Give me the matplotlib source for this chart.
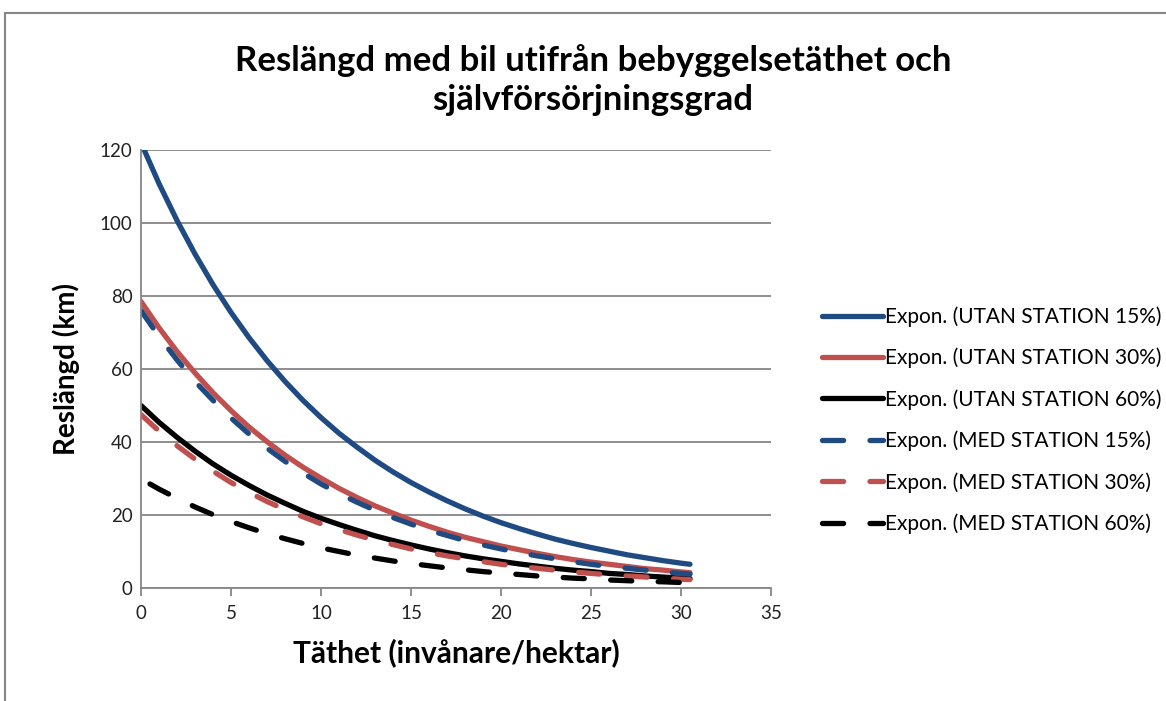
import matplotlib
matplotlib.use('Agg')
import matplotlib.pyplot as plt
from matplotlib.lines import Line2D

plt.rcParams['font.family'] = ['Lato', 'DejaVu Sans']

# data (trendline values at each x)
x_full = [0, 1, 2, 3, 4, 5, 6, 7, 8, 9, 10, 11, 12, 13, 14, 15, 16, 17, 18, 19,
          20, 21, 22, 23, 24, 25, 26, 27, 28, 29, 30, 30.5]
x_med60 = [0.5] + x_full[1:]

utan_15 = [122.0, 110.8, 100.7, 91.5, 83.1, 75.5, 68.6, 62.3, 56.6, 51.4, 46.7, 42.4,
           38.6, 35.0, 31.8, 28.9, 26.3, 23.9, 21.7, 19.7, 17.9, 16.3, 14.8, 13.4,
           12.2, 11.1, 10.1, 9.1, 8.3, 7.5, 6.8, 6.5]
utan_30 = [78.5, 71.3, 64.8, 58.9, 53.5, 48.6, 44.1, 40.1, 36.4, 33.1, 30.1, 27.3,
           24.8, 22.5, 20.5, 18.6, 16.9, 15.3, 13.9, 12.7, 11.5, 10.5, 9.5, 8.6,
           7.8, 7.1, 6.5, 5.9, 5.3, 4.9, 4.4, 4.2]
utan_60 = [50.0, 45.4, 41.3, 37.5, 34.0, 30.9, 28.1, 25.5, 23.2, 21.0, 19.1, 17.4,
           15.8, 14.3, 13.0, 11.8, 10.7, 9.7, 8.8, 8.0, 7.3, 6.6, 6.0, 5.4,
           4.9, 4.5, 4.0, 3.7, 3.3, 3.0, 2.7, 2.6]
med_15 = [76.0, 68.9, 62.5, 56.6, 51.4, 46.6, 42.2, 38.3, 34.7, 31.5, 28.5, 25.9,
          23.5, 21.3, 19.3, 17.5, 15.8, 14.4, 13.0, 11.8, 10.7, 9.7, 8.8, 8.0,
          7.2, 6.5, 5.9, 5.4, 4.9, 4.4, 4.0, 3.8]
med_30 = [47.5, 43.0, 39.0, 35.3, 32.0, 28.9, 26.2, 23.7, 21.5, 19.5, 17.6, 16.0,
          14.5, 13.1, 11.9, 10.7, 9.7, 8.8, 8.0, 7.2, 6.5, 5.9, 5.4, 4.9,
          4.4, 4.0, 3.6, 3.3, 3.0, 2.7, 2.4, 2.3]
med_60 = [28.5, 27.1, 24.6, 22.2, 20.1, 18.2, 16.5, 14.9, 13.5, 12.2, 11.0, 10.0,
          9.0, 8.2, 7.4, 6.7, 6.1, 5.5, 5.0, 4.5, 4.1, 3.7, 3.3, 3.0,
          2.7, 2.5, 2.2, 2.0, 1.8, 1.7, 1.5, 1.4]

labels = ['Expon. (UTAN STATION 15%)', 'Expon. (UTAN STATION 30%)',
          'Expon. (UTAN STATION 60%)', 'Expon. (MED STATION 15%)',
          'Expon. (MED STATION 30%)', 'Expon. (MED STATION 60%)']

blue = '#1f4a82'
red = '#c0504d'
black = '#000000'
gray = '#868686'

fig = plt.figure(figsize=(11.66, 7.01), dpi=100)
ax = fig.add_axes([141/1166, 1 - 588/701, 630/1166, 438/701])

lw = 3.8
dash = (4.0, 5.0)
series = [
    (x_full, utan_15, blue, None),
    (x_full, utan_30, red, None),
    (x_full, utan_60, black, None),
    (x_full, med_15, blue, dash),
    (x_full, med_30, red, dash),
    (x_med60, med_60, black, dash),
]
handles = []
for (xs, ys, c, d), lab in zip(series, labels):
    if d is None:
        ln, = ax.plot(xs, ys, color=c, lw=lw, solid_capstyle='round', label=lab)
    else:
        ln, = ax.plot(xs, ys, color=c, lw=lw, dashes=d, dash_capstyle='round', label=lab)
    handles.append(ln)

ax.set_xlim(0, 35)
ax.set_ylim(0, 120)
ax.set_xticks(range(0, 36, 5))
ax.set_yticks(range(0, 121, 20))
ax.yaxis.grid(True, color=gray, lw=1.3)
ax.set_axisbelow(True)
for s in ['top', 'right']:
    ax.spines[s].set_visible(False)
for s in ['left', 'bottom']:
    ax.spines[s].set_color(gray)
    ax.spines[s].set_linewidth(1.3)
ax.tick_params(axis='both', colors=gray, length=6, width=1.3, labelsize=13.5,
               labelcolor='#222222', pad=6)
ax.tick_params(axis='y', length=0)

ax.set_xlabel('Täthet (invånare/hektar)', fontsize=21.5, fontweight='bold', labelpad=12)
ax.set_ylabel('Reslängd (km)', fontsize=20, fontweight='bold', labelpad=14)

fig.text(593/1166, 1 - 80/701, 'Reslängd med bil utifrån bebyggelsetäthet och\nsjälvförsörjningsgrad',
         ha='center', va='center', fontsize=25, fontweight='bold', linespacing=1.25)

leg = fig.legend(handles=handles, labels=labels, loc='upper left',
                 bbox_to_anchor=(814/1166, 1 - 298/701), frameon=False,
                 fontsize=15, handlelength=2.9, handletextpad=0.1,
                 labelspacing=1.0, borderaxespad=0)

# outer chart border
fig.add_artist(Line2D([5/1166, 1], [1 - 13/701, 1 - 13/701], color=gray, lw=1.5))
fig.add_artist(Line2D([5/1166, 5/1166], [0, 1 - 13/701], color=gray, lw=1.5))

fig.savefig('out.png', dpi=100)
